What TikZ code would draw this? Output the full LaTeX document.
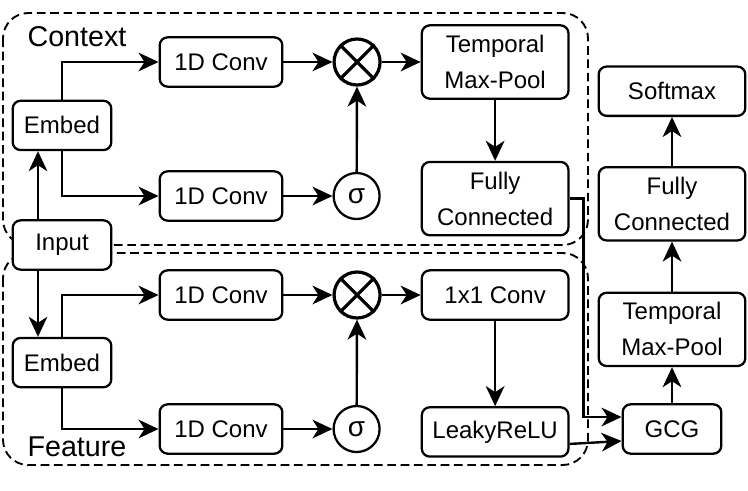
\documentclass[tikz,border=0pt]{standalone}
\usepackage{fontspec}
\setmainfont{Liberation Sans}
\usetikzlibrary{arrows.meta,positioning}

\begin{document}
\begin{tikzpicture}[
    x=0.75pt, y=-0.75pt,
    node distance=36pt,
    box/.style={rectangle, draw, line width=1.7pt, rounded corners=6pt, fill=white, minimum width=92pt, minimum height=37pt, inner sep=3pt, font=\fontsize{18}{27}\selectfont, align=center},
    smallbox/.style={box, minimum width=74pt},
    widebox/.style={box, minimum width=110pt},
    tallbox/.style={widebox, minimum height=55pt},
    opnode/.style={circle, draw, line width=1.7pt, fill=white, minimum size=34.5pt, inner sep=0pt, font=\fontsize{21}{24}\selectfont},
    mulnode/.style={opnode, line width=2.4pt},
    group/.style={draw, dash pattern=on 6.5pt off 3.5pt, line width=1.4pt, rounded corners=19pt},
    grouptitle/.style={font=\fontsize{21.5}{26}\selectfont, inner sep=0pt},
    arrow/.style={-{Stealth[length=15pt,width=14pt,inset=4.5pt]}, line width=1.8pt}
]
    \useasboundingbox (0,0) rectangle (748,490);

    % dashed groups
    \draw[group] (3,13) rectangle (588,245);
    \draw[group] (3,253) rectangle (588,465);
    \node[grouptitle] (ctxtitle) at (77,37) {Context};
    \node[grouptitle] (feattitle) at (77,447) {Feature};

    % shared input
    \node[smallbox] (input) at (62,245) {Input};
    \node[smallbox, above=51pt of input] (cembed) {Embed};
    \node[smallbox, below=49.5pt of input] (fembed) {Embed};

    % context branch
    \node[box] (cconv1) at (221,62) {1D Conv};
    \node[box] (cconv2) at (221,196) {1D Conv};
    \node[mulnode, right=36.75pt of cconv1] (cmul) {};
    \node[opnode, right=36.75pt of cconv2] (csig) {σ};
    \node[tallbox, right=29.25pt of cmul] (cpool) {Temporal\\Max-Pool};
    \node[tallbox, below=45.75pt of cpool] (cfc) {Fully\\Connected};

    % feature branch
    \node[box] (fconv1) at (221,295) {1D Conv};
    \node[box] (fconv2) at (221,429) {1D Conv};
    \node[mulnode, right=36.75pt of fconv1] (fmul) {};
    \node[opnode, right=36.75pt of fconv2] (fsig) {σ};
    \node[widebox, right=29.25pt of fmul] (fconv) {1x1 Conv};
    \node[widebox, below=64pt of fconv] (frelu) {LeakyReLU};

    % output head
    \node[smallbox] (gcg) at (672,429) {GCG};
    \node[tallbox, above=27pt of gcg] (rpool) {Temporal\\Max-Pool};
    \node[tallbox, above=37.5pt of rpool] (rfc) {Fully\\Connected};
    \node[widebox, above=36.75pt of rfc] (softmax) {Softmax};

    % crosses in the product nodes
    \foreach \m in {cmul, fmul} {
        \draw[line width=2.4pt] (\m.north west) -- (\m.south east);
        \draw[line width=2.4pt] (\m.north east) -- (\m.south west);
    }

    \draw[arrow] ([xshift=-18pt]input.north) -- ([xshift=-18pt]cembed.south);
    \draw[arrow] ([xshift=-18pt]input.south) -- ([xshift=-18pt]fembed.north);

    \draw[arrow] (cembed.north) |- (cconv1.west);
    \draw[arrow] (cembed.south) |- (cconv2.west);
    \draw[arrow] (cconv1) -- (cmul);
    \draw[arrow] (cconv2) -- (csig);
    \draw[arrow] (csig) -- (cmul);
    \draw[arrow] (cmul) -- (cpool);
    \draw[arrow] (cpool) -- (cfc);

    \draw[arrow] (fembed.north) |- (fconv1.west);
    \draw[arrow] (fembed.south) |- (fconv2.west);
    \draw[arrow] (fconv1) -- (fmul);
    \draw[arrow] (fconv2) -- (fsig);
    \draw[arrow] (fsig) -- (fmul);
    \draw[arrow] (fmul) -- (fconv);
    \draw[arrow] (fconv) -- (frelu);

    \draw[arrow] (cfc.east) -- ++(10.5pt,0) |- ([yshift=9pt]gcg.west);
    \draw[arrow] ([yshift=-9pt]frelu.east) -- ([yshift=-9pt]gcg.west);
    \draw[arrow] (gcg) -- (rpool);
    \draw[arrow] (rpool) -- (rfc);
    \draw[arrow] (rfc) -- (softmax);
\end{tikzpicture}
\end{document}
